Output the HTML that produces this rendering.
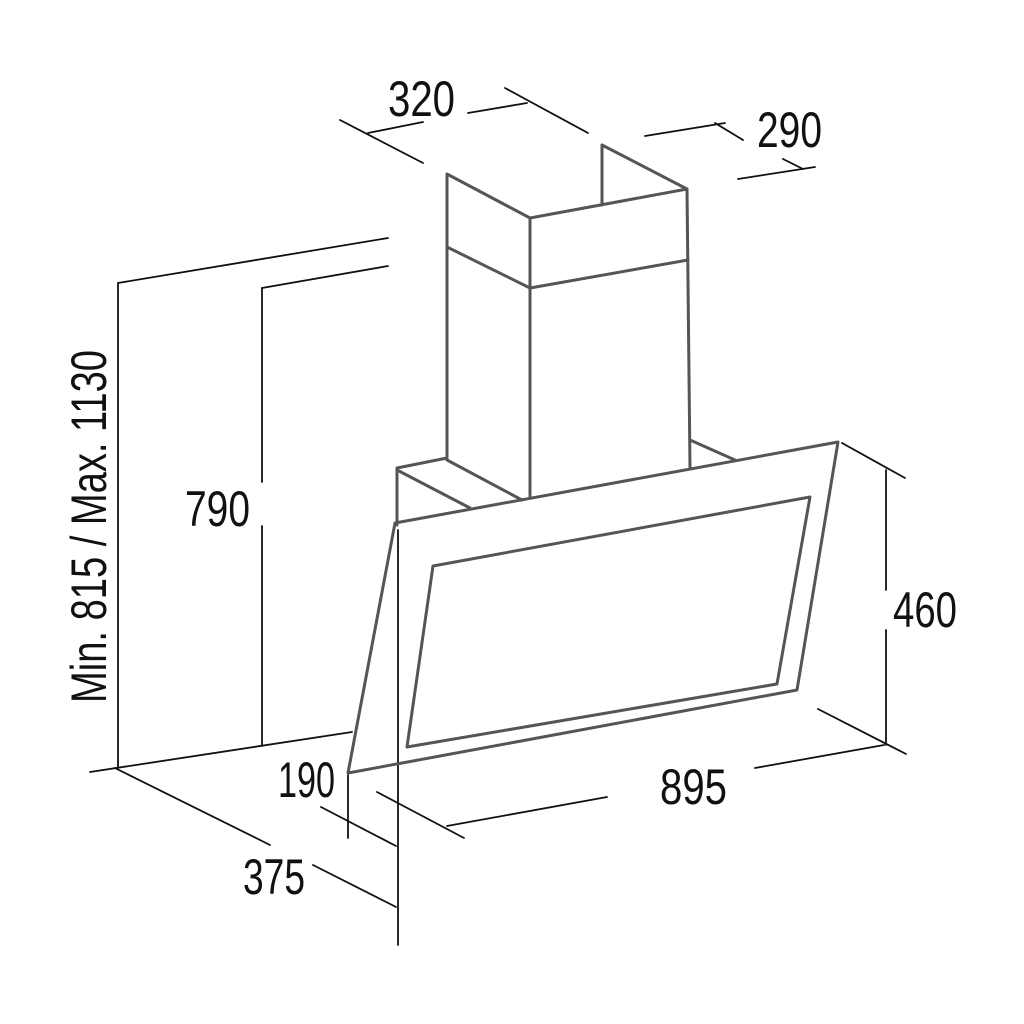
<!DOCTYPE html>
<html><head><meta charset="utf-8"><style>html,body{margin:0;padding:0;background:#fff}svg{display:block}</style></head>
<body>
<svg width="1024" height="1024" viewBox="0 0 1024 1024" xmlns="http://www.w3.org/2000/svg">
<g stroke="#111" stroke-width="1.8" fill="none" stroke-linecap="round">
<!-- wall -->
<line x1="118" y1="283" x2="388" y2="238"/>
<line x1="262" y1="288" x2="388" y2="266"/>
<line x1="118" y1="283" x2="118" y2="768"/>
<line x1="262" y1="288" x2="262" y2="482"/>
<line x1="262" y1="526" x2="262" y2="746"/>
<line x1="90" y1="772" x2="352" y2="732"/>
<line x1="115" y1="768" x2="270" y2="845"/>
<!-- verticals -->
<line x1="398" y1="530" x2="398" y2="945"/>
<line x1="348" y1="775" x2="348" y2="838"/>
<!-- 190 / 375 -->
<line x1="321" y1="807" x2="396" y2="846"/>
<line x1="313" y1="865" x2="396" y2="907"/>
<!-- 895 -->
<line x1="377" y1="792" x2="464" y2="838"/>
<line x1="447" y1="826" x2="607" y2="797"/>
<line x1="755" y1="768" x2="884" y2="745"/>
<line x1="818" y1="709" x2="906" y2="754"/>
<!-- 460 -->
<line x1="886" y1="470" x2="886" y2="590"/>
<line x1="886" y1="630" x2="886" y2="745"/>
<line x1="842" y1="443" x2="905" y2="478"/>
<!-- 320 -->
<line x1="340" y1="120" x2="423" y2="163"/>
<line x1="368" y1="133" x2="423" y2="122"/>
<line x1="468" y1="113" x2="527" y2="103"/>
<line x1="505" y1="88" x2="588" y2="133"/>
<!-- 290 -->
<line x1="645" y1="136" x2="725" y2="123"/>
<line x1="715" y1="123" x2="743" y2="140"/>
<line x1="738" y1="179" x2="815" y2="167"/>
<line x1="783" y1="159" x2="803" y2="169"/>
</g>
<g stroke="#555" stroke-width="3" fill="none" stroke-linejoin="round" stroke-linecap="round">
<!-- chimney -->
<polyline points="447,458 447,174 530,218 687,189 602,145 602,205"/>
<line x1="530" y1="218" x2="530" y2="498"/>
<line x1="687" y1="189" x2="690" y2="468"/>
<polyline points="447,247 530,288 688,260"/>
<!-- base box -->
<polyline points="397,525 397,468 447,458"/>
<line x1="397" y1="470" x2="470" y2="508"/>
<line x1="447" y1="460" x2="522" y2="500"/>
<line x1="690" y1="440" x2="735" y2="460"/>
<!-- glass -->
<polygon points="395,523 838,442 797,690 348,773"/>
<polygon points="433,566 810,497 777,684 407,747"/>
</g>
<g font-family="'Liberation Sans Narrow','Liberation Sans',sans-serif" font-size="50" fill="#111">
<text x="388" y="116" textLength="67" lengthAdjust="spacingAndGlyphs">320</text>
<text x="757" y="147" textLength="65" lengthAdjust="spacingAndGlyphs">290</text>
<text x="185" y="526" textLength="65" lengthAdjust="spacingAndGlyphs">790</text>
<text x="893" y="627" textLength="64" lengthAdjust="spacingAndGlyphs">460</text>
<text x="660" y="804" textLength="67" lengthAdjust="spacingAndGlyphs">895</text>
<text x="278" y="797" textLength="57" lengthAdjust="spacingAndGlyphs">190</text>
<text x="243" y="894" textLength="62" lengthAdjust="spacingAndGlyphs">375</text>
<text transform="translate(106,703) rotate(-90)" x="0" y="0" textLength="353" lengthAdjust="spacingAndGlyphs">Min. 815 / Max. 1130</text>
</g>
</svg>
</body></html>
